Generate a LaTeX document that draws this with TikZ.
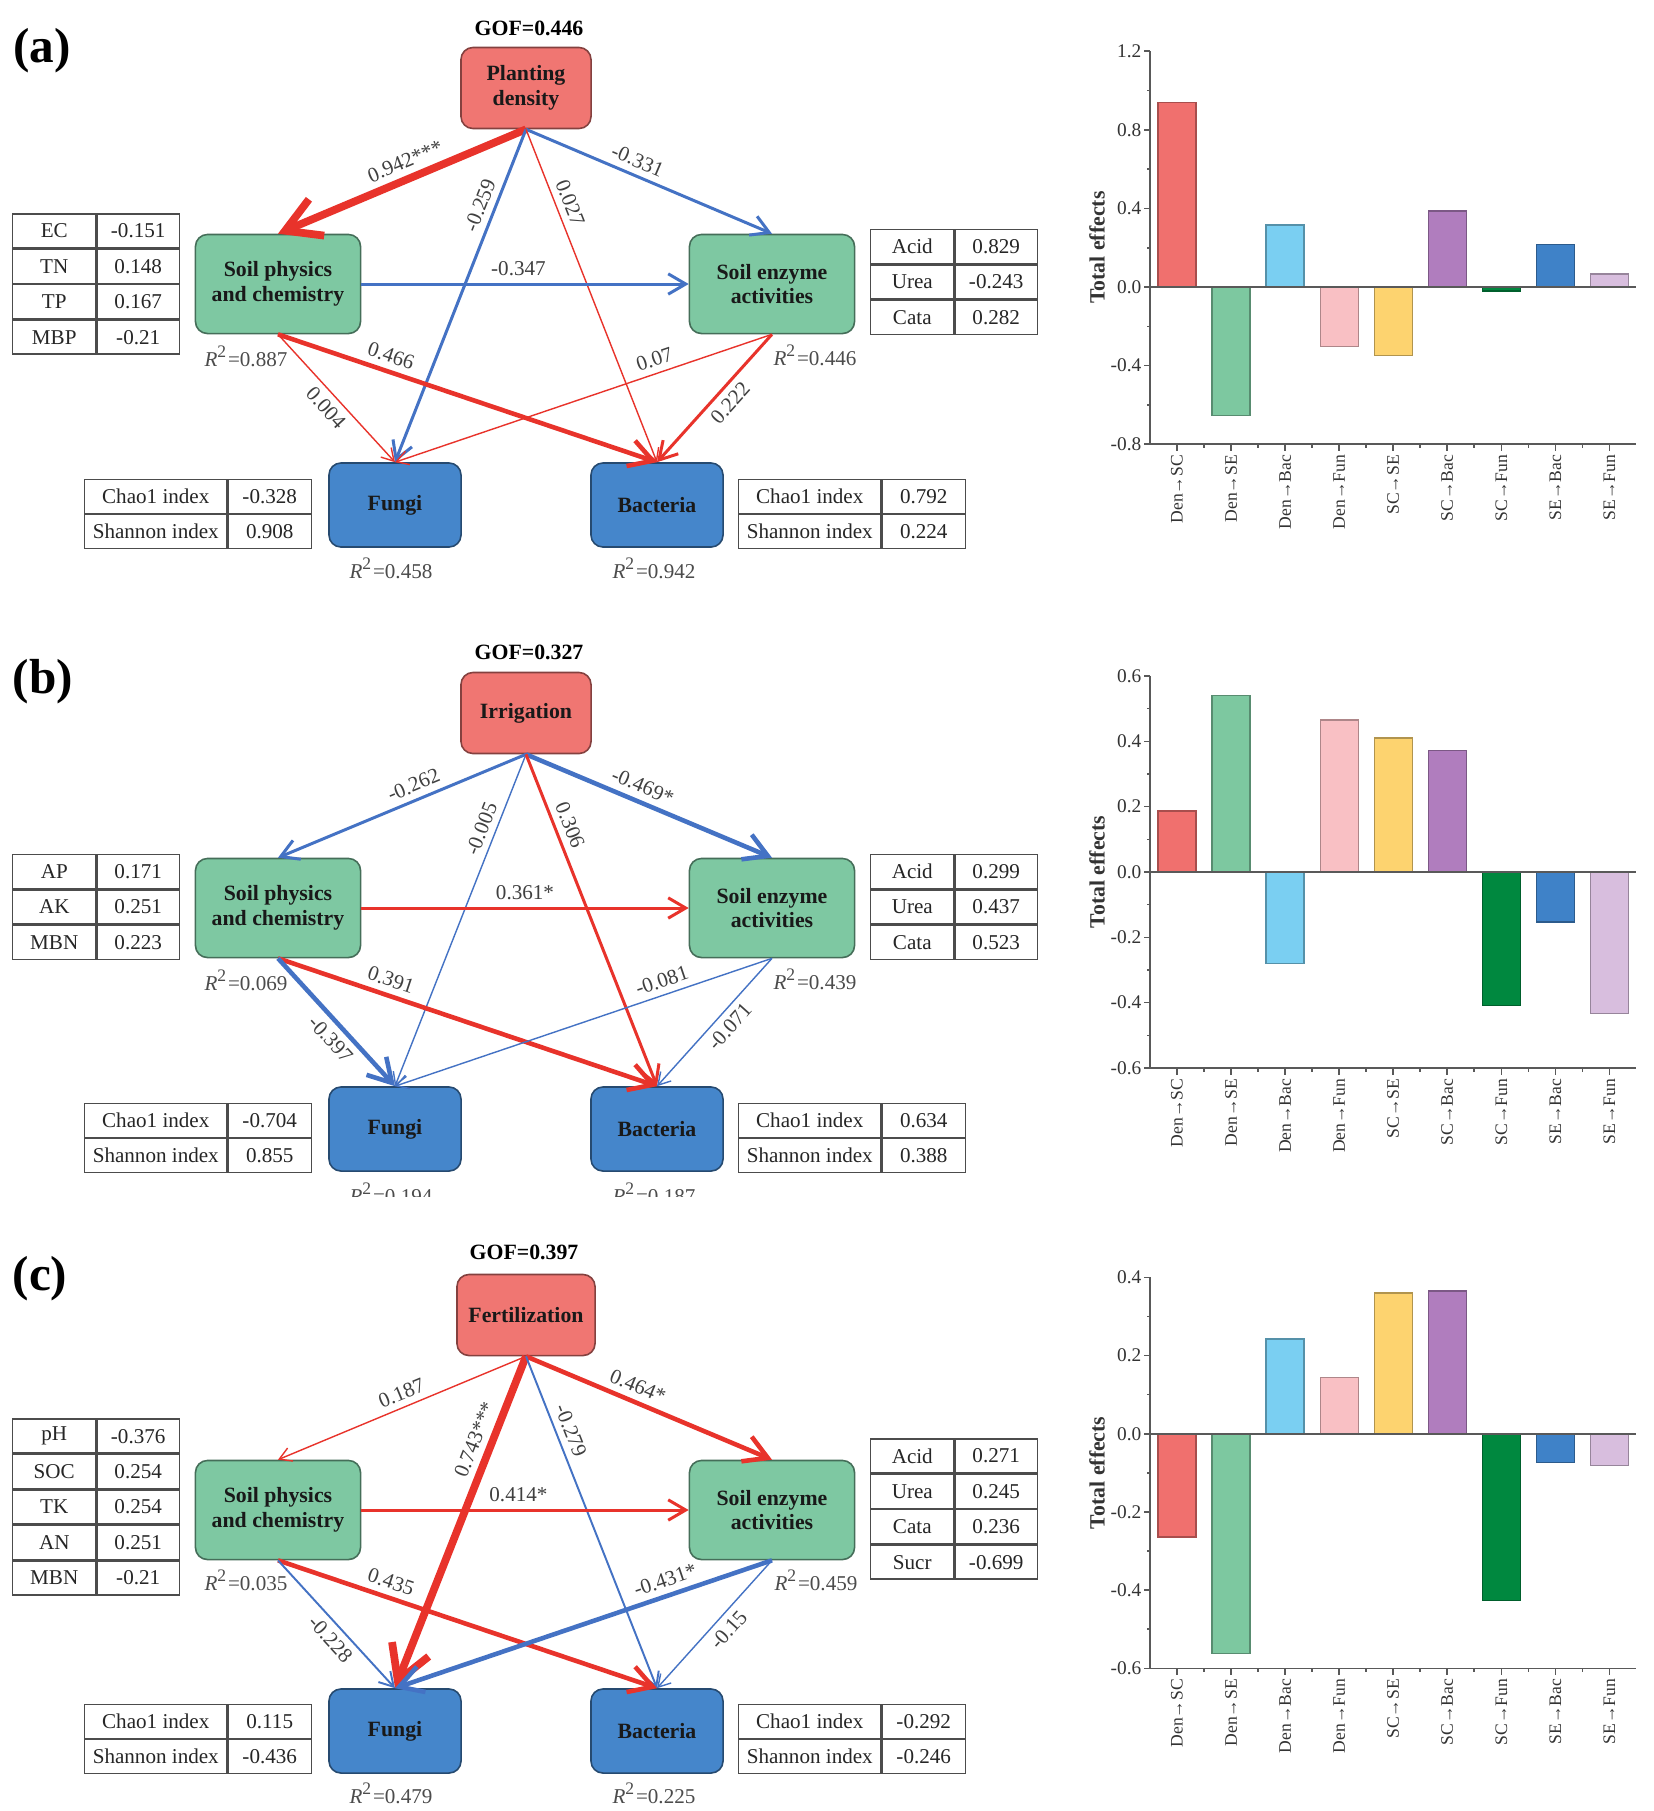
\documentclass[tikz,border=0pt]{standalone}
\usepackage{fontspec}
\setmainfont{Liberation Serif}
\usetikzlibrary{arrows.meta,matrix}
\definecolor{cRed}{HTML}{E8332B}
\definecolor{cBlue}{HTML}{4472C4}
\definecolor{boxRed}{HTML}{F07672}
\definecolor{boxGreen}{HTML}{7EC8A2}
\definecolor{boxBlue}{HTML}{4586CB}
\definecolor{b1}{HTML}{F0706E}
\definecolor{b2}{HTML}{7DC8A0}
\definecolor{b3}{HTML}{7ACFF2}
\definecolor{b4}{HTML}{F9C0C4}
\definecolor{b5}{HTML}{FDD36F}
\definecolor{b6}{HTML}{B07DBE}
\definecolor{b7}{HTML}{00883F}
\definecolor{b8}{HTML}{3F82C8}
\definecolor{b9}{HTML}{D8BEDE}
\tikzset{
  box/.style={draw=#1!55!black, fill=#1, rounded corners=0.12cm, align=center, inner sep=1pt, line width=0.45pt, font=\fontsize{6.2}{7}\selectfont\bfseries, text=black!90},
  topbox/.style={minimum width=1.30cm, minimum height=0.81cm},
  midbox/.style={minimum width=1.65cm, minimum height=0.99cm},
  lowbox/.style={minimum width=1.32cm, minimum height=0.84cm},
  plab/.style={font=\fontsize{14}{16}\selectfont\bfseries, inner sep=0pt},
  gof/.style={font=\fontsize{6.2}{7}\selectfont\bfseries, inner sep=0pt},
  rsq/.style={font=\fontsize{6}{7}\selectfont, text=black!70, inner sep=0pt},
  elab/.style={font=\fontsize{6}{7}\selectfont, text=black!75, inner sep=1.8pt, sloped},
  arr/.style={-{Straight Barb[length=2pt 3.5, width=2.4pt 4]}},
  eR/.style={draw=cRed, arr},
  eB/.style={draw=cBlue, arr},
  w1/.style={line width=0.4pt},
  w1x/.style={line width=0.55pt},
  w2/.style={line width=0.85pt},
  w3/.style={line width=1.3pt},
  w4/.style={line width=2.2pt},
  tblcell/.style={draw=black!70, line width=0.4pt, inner sep=0pt, font=\fontsize{6}{7}\selectfont, text=black!85, anchor=center},
  tblA/.style={matrix of nodes, nodes={tblcell, minimum height=0.34cm}, column sep=0pt, row sep=0pt,
    column 1/.style={nodes={minimum width=0.83cm}}, column 2/.style={nodes={minimum width=0.82cm}}},
  tblC/.style={matrix of nodes, nodes={tblcell, minimum height=0.34cm}, column sep=0pt, row sep=0pt,
    column 1/.style={nodes={minimum width=1.42cm}}, column 2/.style={nodes={minimum width=0.83cm}}},
  axisl/.style={draw=black!65, line width=0.45pt},
  ticklab/.style={font=\fontsize{5.5}{6}\selectfont, anchor=east, inner sep=0pt, text=black!80},
  catlab/.style={font=\fontsize{5}{6}\selectfont, rotate=90, anchor=east, inner sep=0pt, text=black!80},
  ylab/.style={font=\fontsize{6.2}{7}\selectfont\bfseries, rotate=90, inner sep=0pt, text=black!80},
}
\newcommand\rsqt[1]{\textit{R}\textsuperscript{2}=#1}
% #1 zero y, #2 px per unit, #3 top value, #4 bottom value, #5 major list, #6 minor list, #7 bars, #8 prefix
\newcommand\effchart[8]{%
  \foreach \v/\c [count=\i from 0] in {#7} {
    \path[fill=\c, draw=\c!70!black, line width=0.35pt] ({1158+54.05*\i},#1) rectangle ({1196+54.05*\i},{#1-#2*\v});
  }
  \draw[axisl] (1150,#1) -- (1636,#1);
  \draw[axisl] (1150,{#1-#2*#3}) -- (1150,{#1-#2*#4}) -- (1636,{#1-#2*#4});
  \foreach \v/\t [count=\k] in {#5} {
    \draw[axisl] (1150,{#1-#2*\v}) -- ++(-6,0);
    \node[ticklab] (#8t\k) at (1142,{#1-#2*\v}) {\t};
  }
  \foreach \v in {#6} {\draw[axisl] (1150,{#1-#2*\v}) -- ++(-3.5,0);}
  \foreach \i in {0,...,8} {\draw[axisl] ({1177+54.05*\i},{#1-#2*#4}) -- ++(0,7);}
  \foreach \i in {0,...,7} {\draw[axisl] ({1204+54.05*\i},{#1-#2*#4}) -- ++(0,4);}
  \foreach \t [count=\i from 0] in {Den→SC,Den→SE,Den→Bac,Den→Fun,SC→SE,SC→Bac,SC→Fun,SE→Bac,SE→Fun} {
    \node[catlab] (#8c\i) at ({1177+54.05*\i},{#1-#2*#4+10}) {\t};
  }
  \node[ylab] (#8y) at (1097,{#1-#2*(#3+#4)/2}) {Total effects};
}
\begin{document}
\begin{tikzpicture}[x=0.01cm,y=-0.01cm]
\useasboundingbox (0,0) rectangle (1654,1811);
\fill[white] (0,0) rectangle (1654,1811);

% ================= Panel (a) =================
\node[plab] (la) at (42,51) {(a)};
\node[gof] (ga) at (529,28) {GOF=0.446};
\node[box=boxRed, topbox] (pa) at (526,88) {Planting\\density};
\node[box=boxGreen, midbox] (spa) at (278,284) {Soil physics\\and chemistry};
\node[box=boxGreen, midbox] (sea) at (772,284) {Soil enzyme\\activities};
\node[box=boxBlue, lowbox] (fa) at (395,505) {Fungi};
\node[box=boxBlue, lowbox] (ba) at (657,505) {Bacteria};
\node[rsq] (r1a) at (246,356) {\rsqt{0.887}};
\node[rsq] (r2a) at (815,355) {\rsqt{0.446}};
\node[rsq] (r3a) at (391,568) {\rsqt{0.458}};
\node[rsq] (r4a) at (654,568) {\rsqt{0.942}};
\matrix (tsa) [tblA] at (96,284) {EC & -0.151\\ TN & 0.148\\ TP & 0.167\\ MBP & -0.21\\};
\matrix (tea) [tblA] at (954,282) {Acid & 0.829\\ Urea & -0.243\\ Cata & 0.282\\};
\matrix (tfa) [tblC] at (198,514) {Chao1 index & -0.328\\ Shannon index & 0.908\\};
\matrix (tba) [tblC] at (852,514) {Chao1 index & 0.792\\ Shannon index & 0.224\\};
\draw[eR,w4] (pa.south) -- node[elab,above,pos=0.46]{0.942***} (spa.north);
\draw[eB,w2] (pa.south) -- node[elab,above,pos=0.43]{-0.331} (sea.north);
\draw[eB,w2] (pa.south) -- node[elab,above,pos=0.245]{-0.259} (fa.north);
\draw[eR,w1] (pa.south) -- node[elab,above,pos=0.236]{0.027} (ba.north);
\draw[eB,w2] (spa.east) -- node[elab,above,pos=0.48]{-0.347} (sea.west);
\draw[eR,w3] (spa.south) -- node[elab,above,pos=0.285]{0.466} (ba.north);
\draw[eR,w1] (spa.south) -- node[elab,below,pos=0.5]{0.004} (fa.north);
\draw[eR,w1] (sea.south) -- node[elab,above,pos=0.3]{0.07} (fa.north);
\draw[eR,w2] (sea.south) -- node[elab,below,pos=0.46]{0.222} (ba.north);

% ================= Panel (b) =================
\node[plab] (lb) at (43,682) {(b)};
\node[gof] (gb) at (529,652) {GOF=0.327};
\node[box=boxRed, topbox] (pb) at (526,713) {Irrigation};
\node[box=boxGreen, midbox] (spb) at (278,908) {Soil physics\\and chemistry};
\node[box=boxGreen, midbox] (seb) at (772,908) {Soil enzyme\\activities};
\node[box=boxBlue, lowbox] (fb) at (395,1129) {Fungi};
\node[box=boxBlue, lowbox] (bb) at (657,1129) {Bacteria};
\node[rsq] (r1b) at (246,980) {\rsqt{0.069}};
\node[rsq] (r2b) at (815,979) {\rsqt{0.439}};
\begin{scope}
\clip (300,1150) rectangle (720,1196);
\node[rsq] (r3b) at (391,1193) {\rsqt{0.194}};
\node[rsq] (r4b) at (654,1193) {\rsqt{0.187}};
\end{scope}
\matrix (tsb) [tblA] at (96,907) {AP & 0.171\\ AK & 0.251\\ MBN & 0.223\\};
\matrix (teb) [tblA] at (954,907) {Acid & 0.299\\ Urea & 0.437\\ Cata & 0.523\\};
\matrix (tfb) [tblC] at (198,1138) {Chao1 index & -0.704\\ Shannon index & 0.855\\};
\matrix (tbb) [tblC] at (852,1138) {Chao1 index & 0.634\\ Shannon index & 0.388\\};
\draw[eB,w2] (pb.south) -- node[elab,above,pos=0.43]{-0.262} (spb.north);
\draw[eB,w3] (pb.south) -- node[elab,above,pos=0.45]{-0.469*} (seb.north);
\draw[eB,w1] (pb.south) -- node[elab,above,pos=0.24]{-0.005} (fb.north);
\draw[eR,w2] (pb.south) -- node[elab,above,pos=0.23]{0.306} (bb.north);
\draw[eR,w2] (spb.east) -- node[elab,above,pos=0.5]{0.361*} (seb.west);
\draw[eR,w3] (spb.south) -- node[elab,above,pos=0.285]{0.391} (bb.north);
\draw[eB,w3] (spb.south) -- node[elab,below,pos=0.55]{-0.397} (fb.north);
\draw[eB,w1] (seb.south) -- node[elab,above,pos=0.28]{-0.081} (fb.north);
\draw[eB,w1] (seb.south) -- node[elab,below,pos=0.46]{-0.071} (bb.north);

% ================= Panel (c) =================
\node[plab] (lc) at (40,1279) {(c)};
\node[gof] (gc) at (524,1252) {GOF=0.397};
\node[box=boxRed, topbox, minimum width=1.38cm] (pc) at (526,1315) {Fertilization};
\node[box=boxGreen, midbox] (spc) at (278,1510) {Soil physics\\and chemistry};
\node[box=boxGreen, midbox] (sec) at (772,1510) {Soil enzyme\\activities};
\node[box=boxBlue, lowbox] (fc) at (395,1731) {Fungi};
\node[box=boxBlue, lowbox] (bc) at (657,1731) {Bacteria};
\node[rsq] (r1c) at (246,1580) {\rsqt{0.035}};
\node[rsq] (r2c) at (816,1580) {\rsqt{0.459}};
\node[rsq] (r3c) at (391,1793) {\rsqt{0.479}};
\node[rsq] (r4c) at (654,1793) {\rsqt{0.225}};
\matrix (tsc) [tblA] at (96,1507) {pH & -0.376\\ SOC & 0.254\\ TK & 0.254\\ AN & 0.251\\ MBN & -0.21\\};
\matrix (tec) [tblA] at (954,1509) {Acid & 0.271\\ Urea & 0.245\\ Cata & 0.236\\ Sucr & -0.699\\};
\matrix (tfc) [tblC] at (198,1739) {Chao1 index & 0.115\\ Shannon index & -0.436\\};
\matrix (tbc) [tblC] at (852,1739) {Chao1 index & -0.292\\ Shannon index & -0.246\\};
\draw[eR,w1] (pc.south) -- node[elab,above,pos=0.48]{0.187} (spc.north);
\draw[eR,w3] (pc.south) -- node[elab,above,pos=0.43]{0.464*} (sec.north);
\draw[eR,w4] (pc.south) -- node[elab,above,pos=0.27]{0.743***} (fc.north);
\draw[eB,w1x] (pc.south) -- node[elab,above,pos=0.24]{-0.279} (bc.north);
\draw[eR,w2] (spc.east) -- node[elab,above,pos=0.48]{0.414*} (sec.west);
\draw[eR,w3] (spc.south) -- node[elab,above,pos=0.285]{0.435} (bc.north);
\draw[eB,w1x] (spc.south) -- node[elab,below,pos=0.54]{-0.228} (fc.north);
\draw[eB,w3] (sec.south) -- node[elab,above,pos=0.27]{-0.431*} (fc.north);
\draw[eB,w1] (sec.south) -- node[elab,below,pos=0.47]{-0.15} (bc.north);

% ================= Bar charts =================
\effchart{287}{196.5}{1.2}{-0.8}{1.2/1.2,0.8/0.8,0.4/0.4,0/0.0,-0.4/-0.4,-0.8/-0.8}{1.0,0.6,0.2,-0.2,-0.6}%
  {0.94/b1,-0.655/b2,0.316/b3,-0.303/b4,-0.347/b5,0.387/b6,-0.02/b7,0.215/b8,0.066/b9}{ca}
\effchart{872}{326.7}{0.6}{-0.6}{0.6/0.6,0.4/0.4,0.2/0.2,0/0.0,-0.2/-0.2,-0.4/-0.4,-0.6/-0.6}{0.5,0.3,0.1,-0.1,-0.3,-0.5}%
  {0.187/b1,0.54/b2,-0.28/b3,0.465/b4,0.41/b5,0.373/b6,-0.408/b7,-0.153/b8,-0.432/b9}{cb}
\effchart{1433.7}{391}{0.4}{-0.6}{0.4/0.4,0.2/0.2,0/0.0,-0.2/-0.2,-0.4/-0.4,-0.6/-0.6}{0.3,0.1,-0.1,-0.3,-0.5}%
  {-0.264/b1,-0.563/b2,0.242/b3,0.143/b4,0.36/b5,0.365/b6,-0.427/b7,-0.073/b8,-0.082/b9}{cc}
\end{tikzpicture}
\end{document}
